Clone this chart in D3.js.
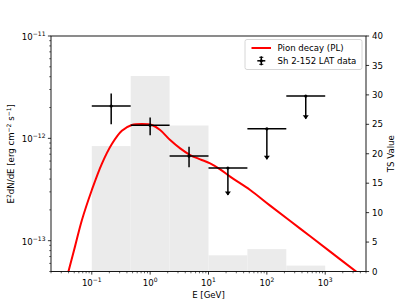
<!DOCTYPE html>
<html><head><meta charset="utf-8">
<script src="https://cdn.jsdelivr.net/npm/d3@7"></script>
<style>
body{margin:0;background:#fff;}
svg{display:block;font-family:"DejaVu Sans",sans-serif;}
</style></head>
<body><svg id="c" width="407" height="305"></svg>
<script>
// ---- data ----
const curveE = [0.0363,0.0398,0.0519,0.0676,0.1002,0.1486,0.2208,0.3273,0.4853,0.7211,1.069,1.483,2.203,3.27,4.853,7.19,10.66,15.85,23.50,51.76,113.8,372.4,1216,3388,3972];
const curveF = [4.03e-14,4.99e-14,8.90e-14,1.585e-13,3.13e-13,5.64e-13,8.80e-13,1.186e-12,1.349e-12,1.380e-12,1.349e-12,1.205e-12,9.62e-13,7.98e-13,6.87e-13,6.24e-13,5.70e-13,4.98e-13,4.22e-13,3.13e-13,2.20e-13,1.312e-13,7.82e-14,4.99e-14,4.67e-14];
const binEdges = [0.1,0.464,2.154,10,46.4,215.4,1000];
const tsValues = [21.3,33.2,24.8,2.75,3.8,1.0];
const ptE    = [0.215,1.0,4.64,21.5,100,464];
const ptF    = [2.07e-12,1.34e-12,6.71e-13,5.13e-13,1.24e-12,2.59e-12];
const ptFhi  = [2.75e-12,1.60e-12,8.28e-13,null,null,null];
const ptFlo  = [1.37e-12,1.07e-12,5.21e-13,2.79e-13,6.24e-13,1.556e-12];
const ptUL   = [false,false,false,true,true,true];
const xMajor = [0.1,1,10,100,1000];
const xMajorExp = ["\u22121","0","1","2","3"];
const yMajor = [1e-13,1e-12,1e-11];
const yMajorExp = ["\u221213","\u221212","\u221211"];
const tsTicks = [0,5,10,15,20,25,30,35,40];

// ---- layout ----
const L=51, R=366, T=36, B=271.5;
const svg=d3.select("#c");
const x=d3.scaleLog().domain([0.02,5000]).range([L,R]);
const y=d3.scaleLog().domain([5e-14,1e-11]).range([B,T]);
const yts=d3.scaleLinear().domain([0,40]).range([B,T]);
const fs=8.6;

svg.append("defs").append("clipPath").attr("id","clip")
  .append("rect").attr("x",L).attr("y",T).attr("width",R-L).attr("height",B-T);

// TS bars
svg.append("g").selectAll("rect").data(tsValues).join("rect")
  .attr("x",(d,i)=>x(binEdges[i])).attr("width",(d,i)=>x(binEdges[i+1])-x(binEdges[i]))
  .attr("y",d=>yts(d)).attr("height",d=>B-yts(d)).attr("fill","#ebebeb");

// curve
svg.append("path").datum(curveE.map((e,i)=>[e,curveF[i]]))
  .attr("clip-path","url(#clip)")
  .attr("d",d3.line().x(d=>x(d[0])).y(d=>y(d[1])).curve(d3.curveCatmullRom.alpha(0.5)))
  .attr("fill","none").attr("stroke","#ff0000").attr("stroke-width",2);

// data points
const gp=svg.append("g").attr("stroke","#000").attr("stroke-width",1.5);
ptE.forEach((e,i)=>{
  const cx=x(e), cy=y(ptF[i]);
  gp.append("line").attr("x1",x(binEdges[i])).attr("x2",x(binEdges[i+1])).attr("y1",cy).attr("y2",cy);
  const top = ptUL[i]? cy : y(ptFhi[i]);
  const bot = y(ptFlo[i]);
  gp.append("line").attr("x1",cx).attr("x2",cx).attr("y1",top).attr("y2",bot);
  gp.append("circle").attr("cx",cx).attr("cy",cy).attr("r",1.6).attr("fill","#000").attr("stroke","none");
  if(ptUL[i]){
    gp.append("path").attr("d",`M${cx-3},${bot-3.5}L${cx+3},${bot-3.5}L${cx},${bot+0.5}Z`)
      .attr("fill","#000").attr("stroke","none");
  }
});

// frame
svg.append("rect").attr("x",L).attr("y",T).attr("width",R-L).attr("height",B-T)
  .attr("fill","none").attr("stroke","#000").attr("stroke-width",0.9);

// axes ticks
function minorTicks(dom){
  const out=[];
  for(let p=-15;p<=5;p++) for(let k=2;k<=9;k++){const v=k*Math.pow(10,p); if(v>=dom[0]&&v<=dom[1]) out.push(v);}
  return out;
}
const ax=svg.append("g").attr("stroke","#000").attr("stroke-width",0.8);
xMajor.forEach(v=>ax.append("line").attr("x1",x(v)).attr("x2",x(v)).attr("y1",B).attr("y2",B+3.1));
minorTicks(x.domain()).forEach(v=>ax.append("line").attr("x1",x(v)).attr("x2",x(v)).attr("y1",B).attr("y2",B+1.8).attr("stroke-width",0.6));
yMajor.forEach(v=>ax.append("line").attr("x1",L).attr("x2",L-3.1).attr("y1",y(v)).attr("y2",y(v)));
minorTicks(y.domain()).forEach(v=>ax.append("line").attr("x1",L).attr("x2",L-1.8).attr("y1",y(v)).attr("y2",y(v)).attr("stroke-width",0.6));
tsTicks.forEach(v=>ax.append("line").attr("x1",R).attr("x2",R+3.1).attr("y1",yts(v)).attr("y2",yts(v)));

// tick labels
const tl=svg.append("g").attr("font-size",fs).attr("fill","#000");
xMajor.forEach((v,i)=>{
  const t=tl.append("text").attr("x",x(v)).attr("y",B+14.5).attr("text-anchor","middle");
  t.append("tspan").text("10");
  t.append("tspan").attr("font-size",fs*0.7).attr("dy",-4).text(xMajorExp[i]);
});
yMajor.forEach((v,i)=>{
  const t=tl.append("text").attr("x",L-5.5).attr("y",y(v)+4).attr("text-anchor","end");
  t.append("tspan").text("10");
  t.append("tspan").attr("font-size",fs*0.7).attr("dy",-4).text(yMajorExp[i]);
});
tsTicks.forEach(v=>{
  tl.append("text").attr("x",R+6).attr("y",yts(v)+3.1).text(v);
});

// axis titles
svg.append("text").attr("x",(L+R)/2).attr("y",298).attr("text-anchor","middle").attr("font-size",fs).text("E [GeV]");
const yl=svg.append("text").attr("transform",`translate(14,${(T+B)/2}) rotate(-90)`).attr("text-anchor","middle").attr("font-size",fs);
yl.append("tspan").text("E");
yl.append("tspan").attr("font-size",fs*0.7).attr("dy",-3.5).text("2");
yl.append("tspan").attr("dy",3.5).text("dN/dE [erg cm");
yl.append("tspan").attr("font-size",fs*0.7).attr("dy",-3.5).text("\u22122");
yl.append("tspan").attr("dy",3.5).text(" s");
yl.append("tspan").attr("font-size",fs*0.7).attr("dy",-3.5).text("\u22121");
yl.append("tspan").attr("dy",3.5).text("]");
svg.append("text").attr("transform",`translate(394,${(T+B)/2}) rotate(-90)`).attr("text-anchor","middle").attr("font-size",fs).text("TS Value");

// legend
const lg=svg.append("g");
lg.append("rect").attr("x",245).attr("y",39.5).attr("width",117).attr("height",30).attr("rx",2)
  .attr("fill","#fff").attr("fill-opacity",0.8).attr("stroke","#ccc").attr("stroke-width",0.8);
lg.append("line").attr("x1",251.5).attr("x2",271).attr("y1",48).attr("y2",48).attr("stroke","#ff0000").attr("stroke-width",2);
lg.append("text").attr("x",277.5).attr("y",51).attr("font-size",fs).text("Pion decay (PL)");
const lx=261.3, ly=60.8;
lg.append("line").attr("x1",lx-4).attr("x2",lx+4).attr("y1",ly).attr("y2",ly).attr("stroke","#000").attr("stroke-width",1.5);
lg.append("line").attr("x1",lx).attr("x2",lx).attr("y1",ly-4.5).attr("y2",ly+4.5).attr("stroke","#000").attr("stroke-width",1.5);
lg.append("line").attr("x1",lx-2).attr("x2",lx+2).attr("y1",ly-3.5).attr("y2",ly-3.5).attr("stroke","#000").attr("stroke-width",1);
lg.append("line").attr("x1",lx-2).attr("x2",lx+2).attr("y1",ly+3.5).attr("y2",ly+3.5).attr("stroke","#000").attr("stroke-width",1);
lg.append("circle").attr("cx",lx).attr("cy",ly).attr("r",1.6).attr("fill","#000");
lg.append("text").attr("x",277.5).attr("y",63.5).attr("font-size",fs).text("Sh 2-152 LAT data");
</script></body></html>
